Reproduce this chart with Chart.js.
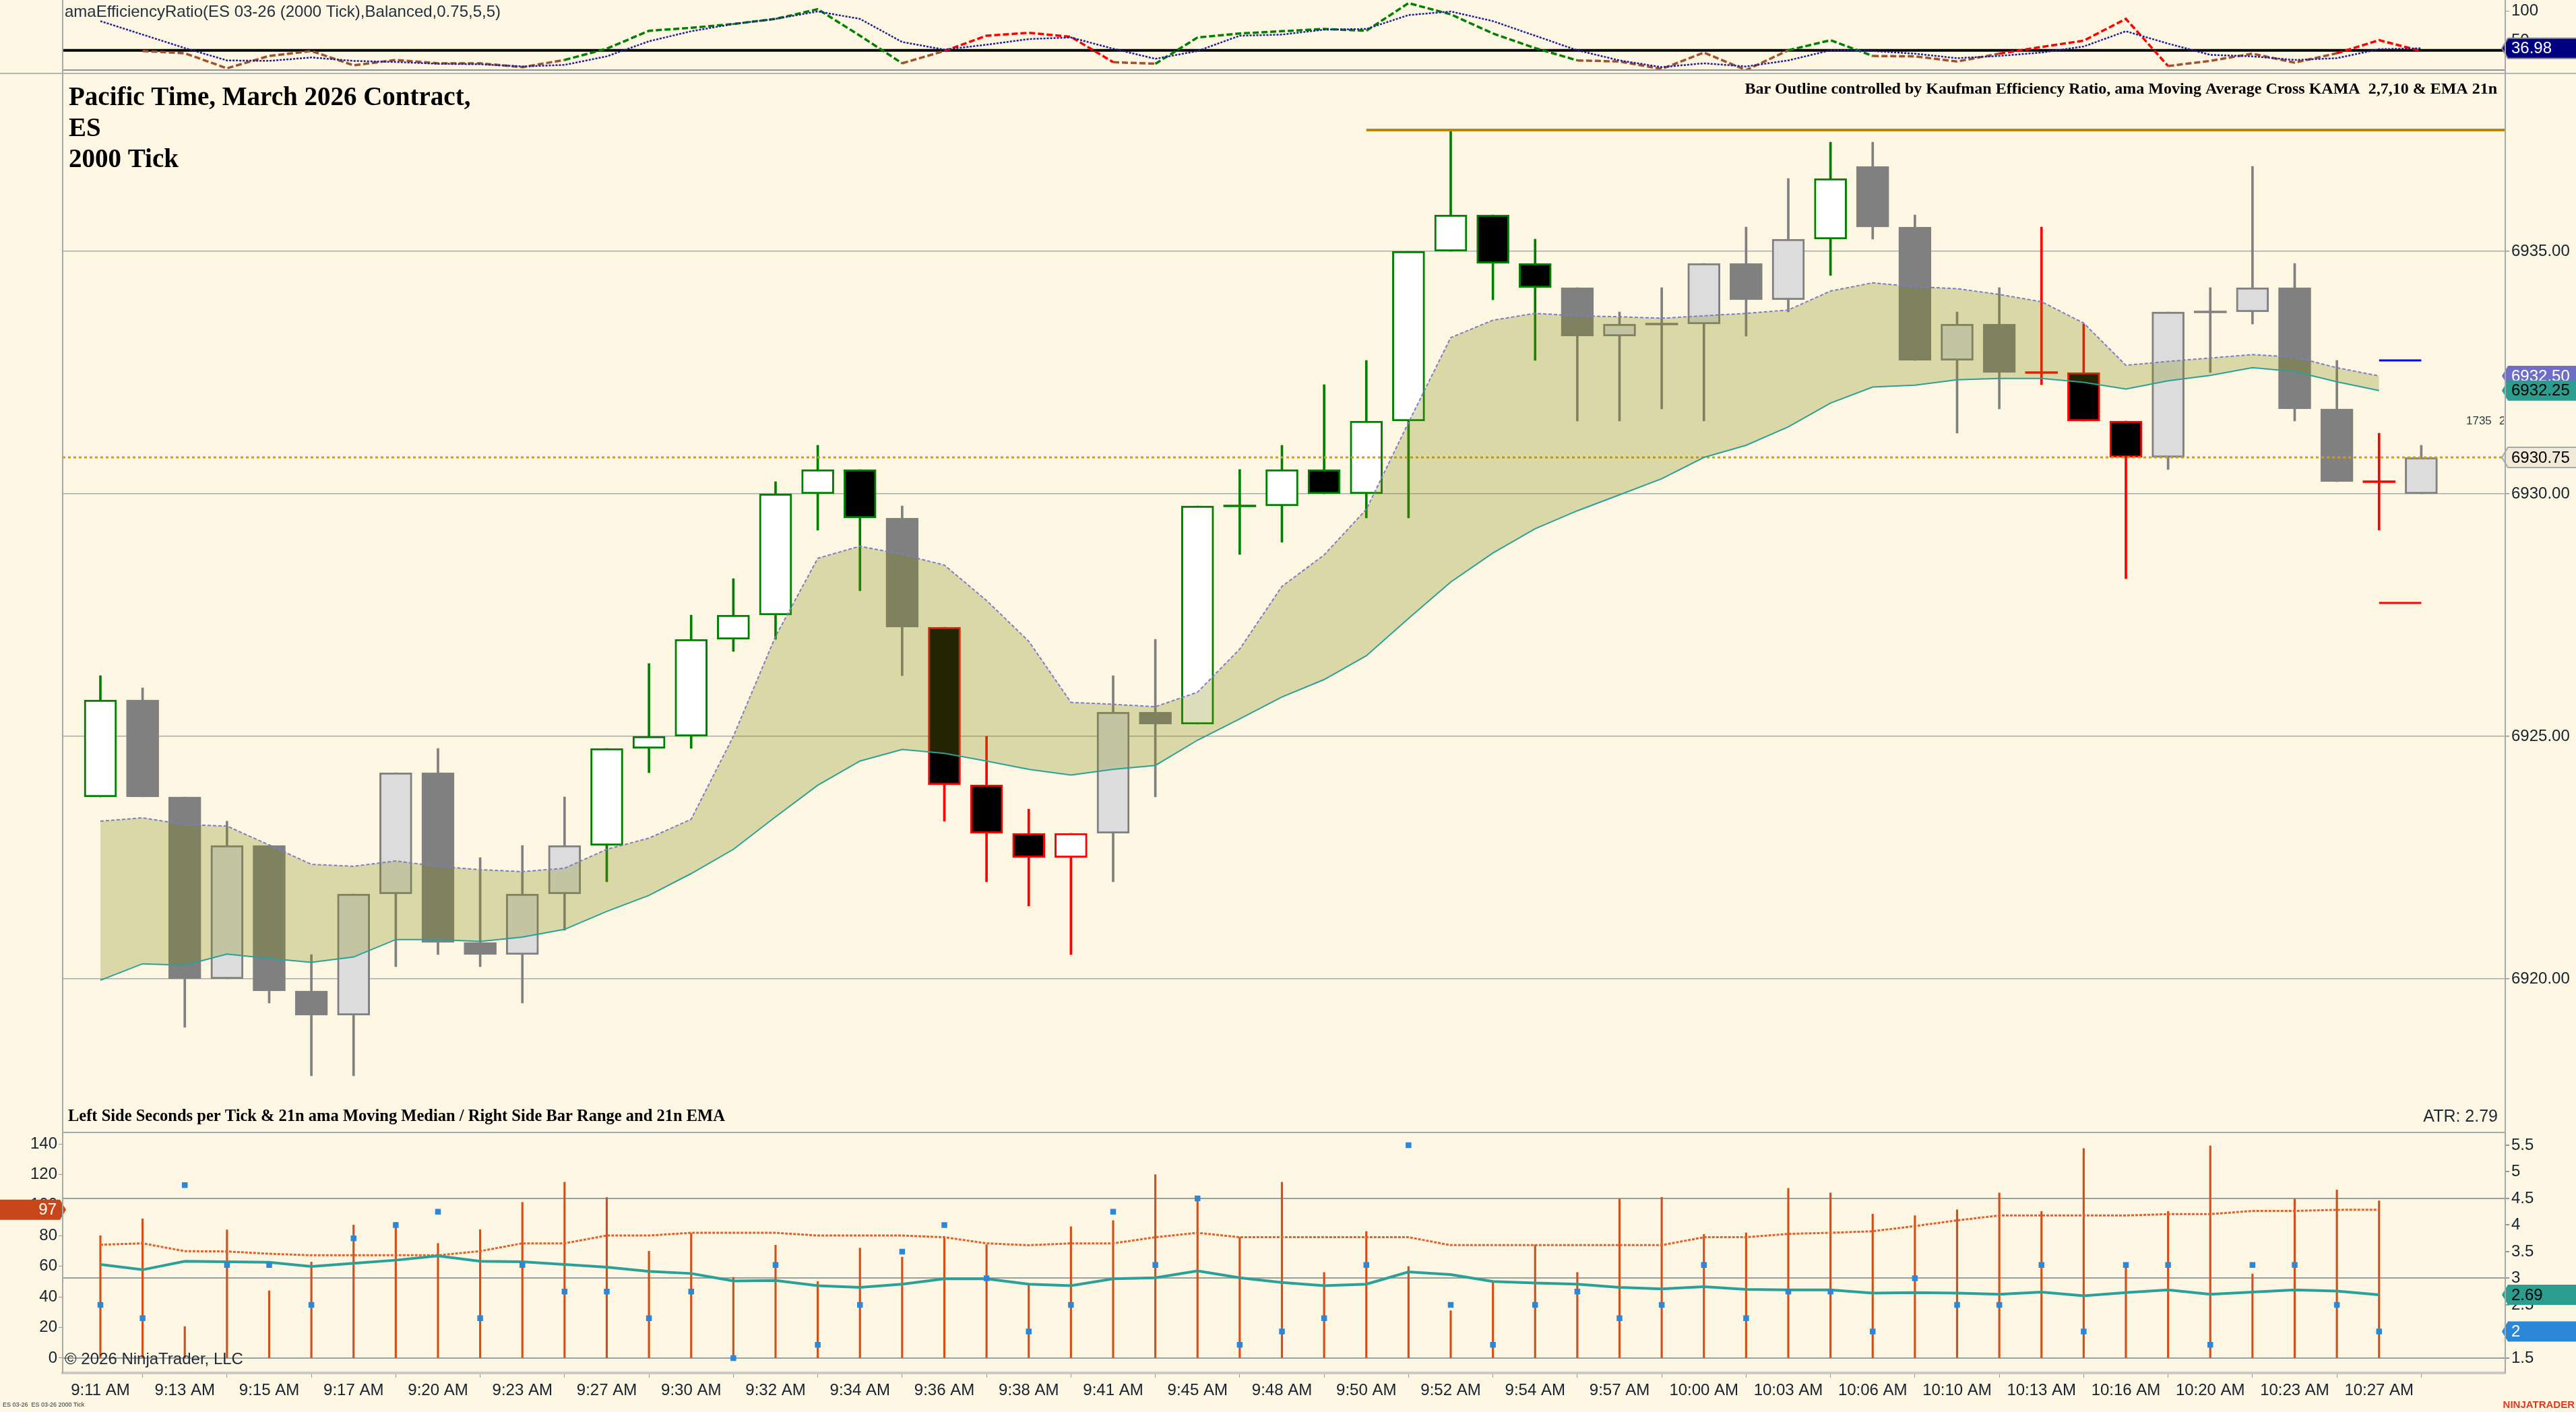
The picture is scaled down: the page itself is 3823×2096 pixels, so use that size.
<!DOCTYPE html>
<html>
<head>
<meta charset="utf-8">
<title>ES 03-26 2000 Tick</title>
<script src="https://cdn.jsdelivr.net/npm/chart.js@4.4.1/dist/chart.umd.min.js"></script>
<style>
  html, body { margin: 0; padding: 0; background: #fdf6e3; overflow: hidden; }
  body { position: relative; width: 3823px; height: 2096px; }
  .pane { position: absolute; left: 0; width: 3823px; }
  #er-pane { top: 0; height: 104px; }
  #price-pane { top: 109px; height: 1572px; }
  #stats-pane { top: 1681px; height: 415px; }
  .rule { position: absolute; background: #a3aaaa; }
</style>
</head>
<body>
<div class="pane" id="er-pane"><canvas id="er-chart"></canvas></div>
<div class="pane" id="price-pane"><canvas id="price-chart"></canvas></div>
<div class="pane" id="stats-pane"><canvas id="stats-chart"></canvas></div>
<div class="rule" style="left:93px;top:103px;width:3625px;height:2px;background:#8d9494"></div>
<div class="rule" style="left:0;top:108px;width:3823px;height:2px;background:#b3b8b6"></div>
<div class="rule" style="left:93px;top:1680px;width:3625px;height:2px"></div>
<div class="rule" style="left:92px;top:0;width:2px;height:2038px"></div>
<div class="rule" style="left:3717px;top:0;width:2px;height:2038px"></div>
<script>
// ---- data (bar index 0 = 9:11 AM) ----
const timeLabels = ['9:11 AM', '9:13 AM', '9:15 AM', '9:17 AM', '9:20 AM', '9:23 AM', '9:27 AM', '9:30 AM',
    '9:32 AM', '9:34 AM', '9:36 AM', '9:38 AM', '9:41 AM', '9:45 AM', '9:48 AM', '9:50 AM', '9:52 AM',
    '9:54 AM', '9:57 AM', '10:00 AM', '10:03 AM', '10:06 AM', '10:10 AM', '10:13 AM', '10:16 AM',
    '10:20 AM', '10:23 AM', '10:27 AM'];

const opens = [6923.75, 6925.75, 6923.75, 6920.0, 6922.75, 6919.75, 6919.25, 6921.75, 6924.25, 6920.75,
    6920.5, 6921.75, 6922.75, 6924.75, 6925.0, 6927.0, 6927.5, 6930.0, 6930.5, 6929.5,
    6927.25, 6924.0, 6923.0, 6922.5, 6923.0, 6925.5, 6925.25, 6929.75, 6929.75, 6930.5,
    6930.0, 6931.5, 6935.0, 6935.75, 6934.75, 6934.25, 6933.25, 6933.5, 6933.5, 6934.75,
    6934.0, 6935.25, 6936.75, 6935.5, 6932.75, 6933.5, 6932.5, 6932.5, 6931.5, 6930.75,
    6933.75, 6933.75, 6934.25, 6931.75, 6930.25, 6930.0];
const highs = [6926.25, 6926.0, 6923.75, 6923.25, 6922.75, 6920.5, 6921.75, 6924.25, 6924.75, 6922.5,
    6922.75, 6923.75, 6924.75, 6926.5, 6927.5, 6928.25, 6930.25, 6931.0, 6930.5, 6929.75,
    6927.25, 6925.0, 6923.5, 6923.0, 6926.25, 6927.0, 6929.75, 6930.5, 6931.0, 6932.25,
    6932.75, 6935.0, 6937.5, 6935.75, 6935.25, 6934.25, 6933.75, 6934.25, 6934.75, 6935.5,
    6936.5, 6937.25, 6937.25, 6935.75, 6933.75, 6934.25, 6935.5, 6933.5, 6931.5, 6933.75,
    6934.25, 6936.75, 6934.75, 6932.75, 6931.25, 6931.0];
const lows = [6923.75, 6923.75, 6919.0, 6920.0, 6919.5, 6918.0, 6918.0, 6920.25, 6920.5, 6920.25,
    6919.5, 6921.0, 6922.0, 6924.25, 6924.75, 6926.75, 6927.0, 6929.25, 6928.0, 6926.25,
    6923.25, 6922.0, 6921.5, 6920.5, 6922.0, 6923.75, 6925.25, 6928.75, 6929.0, 6930.0,
    6929.5, 6929.5, 6935.0, 6934.0, 6932.75, 6931.5, 6931.5, 6931.75, 6931.5, 6933.25,
    6933.75, 6934.5, 6935.25, 6932.75, 6931.25, 6931.75, 6932.25, 6931.5, 6928.25, 6930.5,
    6932.5, 6933.5, 6931.5, 6930.25, 6929.25, 6930.0];
const closes = [6925.75, 6923.75, 6920.0, 6922.75, 6919.75, 6919.25, 6921.75, 6924.25, 6920.75, 6920.5,
    6921.75, 6922.75, 6924.75, 6925.0, 6927.0, 6927.5, 6930.0, 6930.5, 6929.5, 6927.25,
    6924.0, 6923.0, 6922.5, 6923.0, 6925.5, 6925.25, 6929.75, 6929.75, 6930.5, 6930.0,
    6931.5, 6935.0, 6935.75, 6934.75, 6934.25, 6933.25, 6933.5, 6933.5, 6934.75, 6934.0,
    6935.25, 6936.5, 6935.5, 6932.75, 6933.5, 6932.5, 6932.5, 6931.5, 6930.75, 6933.75,
    6933.75, 6934.25, 6931.75, 6930.25, 6930.25, 6930.75];
// outline state from the efficiency ratio: g = trend up, r = trend down, n = neutral
const barState = ('gnnnnnnnnn' + 'nngggggggn' + 'rrrrnngggg' + 'gggggnnnnn' + 'ngnnnnrrrn' + 'nnnnrn').split('');

const kama = [6923.25, 6923.32, 6923.18, 6923.15, 6922.76, 6922.36, 6922.32, 6922.43, 6922.32, 6922.25,
    6922.21, 6922.28, 6922.67, 6922.90, 6923.29, 6925.0, 6927.06, 6928.67, 6928.92, 6928.75,
    6928.53, 6927.80, 6926.96, 6925.70, 6925.66, 6925.61, 6925.91, 6926.80, 6928.09, 6928.74,
    6929.68, 6931.47, 6933.22, 6933.58, 6933.72, 6933.67, 6933.65, 6933.62, 6933.67, 6933.72,
    6933.79, 6934.18, 6934.35, 6934.27, 6934.23, 6934.11, 6933.96, 6933.52, 6932.65, 6932.73,
    6932.80, 6932.87, 6932.82, 6932.60, 6932.43];
const ema21 = [6919.97, 6920.31, 6920.28, 6920.51, 6920.42, 6920.34, 6920.45, 6920.81, 6920.81, 6920.77,
    6920.86, 6921.02, 6921.39, 6921.72, 6922.17, 6922.67, 6923.34, 6923.99, 6924.49, 6924.73,
    6924.65, 6924.49, 6924.32, 6924.20, 6924.32, 6924.40, 6924.92, 6925.36, 6925.81, 6926.17,
    6926.66, 6927.43, 6928.18, 6928.78, 6929.28, 6929.65, 6929.98, 6930.31, 6930.75, 6931.0,
    6931.38, 6931.87, 6932.20, 6932.24, 6932.35, 6932.38, 6932.38, 6932.30, 6932.16, 6932.33,
    6932.44, 6932.60, 6932.52, 6932.31, 6932.13];

const priceTicks = [6920, 6925, 6930, 6935];
const lastPrice = 6930.75;
const sessionHigh = 6937.5;     // drawn from bar 30 to the right edge
const projHigh = 6932.75;       // short marks on the last bar
const projLow = 6927.75;
const atrValue = 2.79;

// efficiency ratio pane
const erRaw = [null, 32.4, 28.6, 3.0, 24.0, 32.4, 8.0, 17.2, 11.5, 11.5,
    5.0, 17.2, 36.3, 66.8, 71.8, 78.3, 87.0, 103.5, 58.4, 11.5,
    32.4, 58.4, 63.4, 56.5, 13.4, 10.7, 55.4, 62.2, 66.0, 69.9,
    66.8, 113.8, 94.7, 62.2, 37.4, 16.4, 14.5, 1.9, 29.8, 0,
    33.6, 50.8, 24.0, 23.3, 14.5, 27.9, 39.3, 50.0, 87.0, 6.9,
    15.6, 27.9, 12.6, 28.6, 50.8, 32.4];
const erSmooth = [83.2, 60.3, 37.4, 16.4, 15.6, 21.4, 15.6, 13.7, 10.7, 9.9,
    6.1, 8.8, 23.3, 48.9, 66.0, 78.3, 87.0, 99.6, 87.0, 47.7,
    34.7, 43.1, 52.7, 55.4, 36.3, 19.1, 32.4, 58.4, 60.3, 68.7,
    69.9, 93.5, 99.6, 83.2, 58.4, 33.6, 16.4, 5.0, 11.5, 6.1,
    16.4, 33.6, 32.4, 27.9, 20.2, 24.0, 29.8, 40.1, 66.0, 45.0,
    25.9, 23.3, 17.2, 20.2, 35.5, 36.98];
const erThreshold = 33.6;
const erTicks = [50, 100];

// lower pane: seconds per tick (left) and bar range (right)
const secPerTick = [80, 91, 20.6, 83.8, 44, 62.8, 87, 88.8, 75, 84,
    101.8, 115, 105, 69.9, 81.6, 52.8, 73.8, 50, 71.9, 66,
    79, 74.1, 48.1, 85.9, 89.9, 119.9, 102.8, 79, 115, 56,
    82.8, 59.9, 31, 50.3, 74.1, 56, 104, 105.1, 80.9, 81.9,
    111, 108, 94.1, 93.1, 96.9, 108, 95.9, 137, 62, 95.9,
    138.8, 55, 104, 109.9, 102.8];
const secMedian = [74.1, 75, 69.9, 69.7, 68.2, 67.2, 67.2, 67.2, 67.2, 69.9,
    75, 75, 80.1, 80.1, 81.9, 81.9, 81.9, 80.1, 80.1, 80.1,
    79, 75, 73.8, 75, 75, 79, 81.9, 79, 79, 79,
    79, 79, 73.8, 73.8, 73.8, 73.8, 73.8, 73.8, 79, 79,
    81.2, 81.9, 82.9, 86.3, 90, 93.2, 93.2, 93.2, 93.2, 94.1,
    94.1, 96.2, 96.2, 96.9, 97];
const barRange = [2.5, 2.25, 4.75, 3.25, 3.25, 2.5, 3.75, 4.0, 4.25, 2.25,
    3.25, 2.75, 2.75, 2.25, 2.75, 1.5, 3.25, 1.75, 2.5, 3.5,
    4.0, 3.0, 2.0, 2.5, 4.25, 3.25, 4.5, 1.75, 2.0, 2.25,
    3.25, 5.5, 2.5, 1.75, 2.5, 2.75, 2.25, 2.5, 3.25, 2.25,
    2.75, 2.75, 2.0, 3.0, 2.5, 2.5, 3.25, 2.0, 3.25, 3.25,
    1.75, 3.25, 3.25, 2.5, 2.0];
const rangeEma = [3.26, 3.16, 3.32, 3.31, 3.30, 3.22, 3.28, 3.34, 3.42, 3.32,
    3.31, 3.26, 3.21, 3.13, 3.09, 2.95, 2.96, 2.86, 2.83, 2.89,
    2.99, 2.99, 2.89, 2.86, 2.99, 3.01, 3.14, 3.01, 2.92, 2.86,
    2.89, 3.12, 3.07, 2.94, 2.91, 2.89, 2.83, 2.80, 2.84, 2.79,
    2.78, 2.78, 2.72, 2.73, 2.72, 2.70, 2.74, 2.67, 2.73, 2.78,
    2.70, 2.74, 2.78, 2.76, 2.69];
const secTicks = [0, 20, 40, 60, 80, 100, 120, 140];
const rangeTicks = [1.5, 2, 2.5, 3, 3.5, 4, 4.5, 5, 5.5];
const rangeGrid = [1.5, 3, 4.5];

// ---- view ----
const X_MIN = -0.894;
const X_MAX = 56.99;
const SANS = '"Liberation Sans", Arial, sans-serif';
const SERIF = '"Liberation Serif", "Times New Roman", serif';
const INK = '#16232f';
const EDGE = { g: '#008000', r: '#ff0000', n: '#808080' };
const ER_COLORS = { g: '#008000', r: '#ff0000', n: '#a0522d' };

Chart.defaults.font.family = SANS;
Chart.defaults.color = INK;

const idx = opens.map((_, i) => i);
const pts = (arr) => arr.map((v, i) => ({ x: i, y: v }));
const flat = (v, x0, x1) => [{ x: x0, y: v }, { x: x1, y: v }];
const toTick = (v) => Math.round(v * 4) / 4;

function bodyFill(i) {
    const s = barState[i];
    if (closes[i] > opens[i]) return s === 'n' ? '#dcdcdc' : '#ffffff';
    if (closes[i] < opens[i]) return s === 'n' ? '#808080' : '#000000';
    return EDGE[s];
}

// price tag with a pointed end, like the ones on the axes
function drawTag(ctx, side, tipX, y, w, text, bg, fg, edge) {
    const h = 30, notch = 9, dir = side === 'right' ? 1 : -1;
    ctx.beginPath();
    ctx.moveTo(tipX, y);
    ctx.lineTo(tipX + dir * notch, y - h / 2);
    ctx.lineTo(tipX + dir * w, y - h / 2);
    ctx.lineTo(tipX + dir * w, y + h / 2);
    ctx.lineTo(tipX + dir * notch, y + h / 2);
    ctx.closePath();
    ctx.fillStyle = bg;
    ctx.fill();
    if (edge) {
        ctx.strokeStyle = edge;
        ctx.lineWidth = 2;
        ctx.stroke();
    }
    ctx.fillStyle = fg;
    ctx.textBaseline = 'middle';
    ctx.font = '24px ' + SANS;
    ctx.textAlign = side === 'right' ? 'left' : 'right';
    ctx.fillText(text, tipX + dir * (notch + 5), y + 1);
}

// axes keep a fixed size and add no label padding to the plot area
function fixedWidth(w) {
    return (scale) => {
        scale.width = w;
        scale.paddingTop = 0;
        scale.paddingBottom = 0;
    };
}
function fixedHeight(h) {
    return (scale) => {
        scale.height = h;
        scale.paddingLeft = 0;
        scale.paddingRight = 0;
    };
}
function fixedTicks(list) { return (scale) => { scale.ticks = list.map((v) => ({ value: v })); }; }

const baseOptions = {
    responsive: true,
    maintainAspectRatio: false,
    animation: false,
    events: [],
    plugins: { legend: { display: false }, tooltip: { enabled: false } },
};

// ---- efficiency ratio pane ----
const erNotes = {
    id: 'erNotes',
    afterDraw(chart) {
        const ctx = chart.ctx;
        const y = chart.scales.y;
        ctx.save();
        ctx.font = '24px ' + SANS;
        ctx.fillStyle = '#22313f';
        ctx.textBaseline = 'middle';
        ctx.fillText('amaEfficiencyRatio(ES 03-26 (2000 Tick),Balanced,0.75,5,5)', 96, 18);
        const last = erSmooth[erSmooth.length - 1];
        drawTag(ctx, 'right', chart.chartArea.right - 5, y.getPixelForValue(last), 112,
            last.toFixed(2), '#000080', '#ffffff', '#8a8a8a');
        ctx.restore();
    }
};

new Chart(document.getElementById('er-chart'), {
    type: 'line',
    data: {
        datasets: [
            {
                data: pts(erSmooth),
                borderColor: '#1f1f9a', borderWidth: 2.5, borderDash: [3, 2],
                pointRadius: 0, order: 0
            },
            {
                data: pts(erRaw),
                borderWidth: 3.5, borderDash: [9, 4], pointRadius: 0, order: 1,
                segment: {
                    borderColor: (c) => {
                        const a = c.p0DataIndex, b = c.p1DataIndex;
                        if (erRaw[b] > erThreshold) return ER_COLORS[barState[b]];
                        if (erRaw[a] > erThreshold) return ER_COLORS[barState[a]];
                        return ER_COLORS.n;
                    }
                }
            },
            {
                data: flat(erThreshold, X_MIN, X_MAX),
                borderColor: '#000000', borderWidth: 4, pointRadius: 0, order: 2
            }
        ]
    },
    options: {
        ...baseOptions,
        layout: { padding: { left: 93, right: 0, top: 0, bottom: 0 }, autoPadding: false },
        scales: {
            x: { type: 'linear', min: X_MIN, max: X_MAX, display: false },
            y: {
                position: 'right', min: 0, max: 119.1,
                afterFit: fixedWidth(105), afterBuildTicks: fixedTicks(erTicks),
                ticks: { font: { size: 24 }, color: INK, padding: 3 },
                grid: { drawOnChartArea: false, tickLength: 6, tickColor: '#8e979b' },
                border: { display: false }
            }
        }
    },
    plugins: [erNotes]
});

// ---- price pane ----
const priceNotes = {
    id: 'priceNotes',
    afterDraw(chart) {
        const ctx = chart.ctx;
        const area = chart.chartArea;
        const y = chart.scales.y;
        ctx.save();
        ctx.fillStyle = '#000000';
        ctx.textBaseline = 'middle';
        ctx.textAlign = 'left';
        ctx.font = 'bold 39px ' + SERIF;
        ['Pacific Time, March 2026 Contract,', 'ES', '2000 Tick'].forEach((t, k) => ctx.fillText(t, 102, 37 + 46 * k));
        ctx.font = 'bold 24.5px ' + SERIF;
        ctx.fillText('Left Side Seconds per Tick & 21n ama Moving Median / Right Side Bar Range and 21n EMA', 101, 1549);
        ctx.font = 'bold 24px ' + SERIF;
        ctx.textAlign = 'right';
        ctx.fillText('Bar Outline controlled by Kaufman Efficiency Ratio, ama Moving Average Cross KAMA  2,7,10 & EMA 21n', 3706, 24);
        ctx.font = '25px ' + SANS;
        ctx.fillStyle = '#1e2b37';
        ctx.fillText('ATR: ' + atrValue.toFixed(2), 3707, 1549);

        // tick counter, cut by the axis line
        ctx.save();
        ctx.beginPath();
        ctx.rect(0, 0, area.right - 2, chart.height);
        ctx.clip();
        ctx.font = '17px ' + SANS;
        ctx.fillStyle = '#2d3a45';
        ctx.textAlign = 'left';
        ctx.fillText('1735', 3660, 516);
        ctx.fillText('2', 3709, 516);
        ctx.restore();

        const k = kama[kama.length - 1], e = ema21[ema21.length - 1];
        drawTag(ctx, 'right', area.right - 5, y.getPixelForValue(k), 112, toTick(k).toFixed(2), '#6e6ec8', '#ffffff');
        drawTag(ctx, 'right', area.right - 5, y.getPixelForValue(e), 112, toTick(e).toFixed(2), '#2a9d8f', '#000000');
        drawTag(ctx, 'right', area.right - 5, y.getPixelForValue(lastPrice), 112, lastPrice.toFixed(2), '#f1ead9', '#000000', '#a3aaaa');
        ctx.restore();
    }
};

const bodyData = idx.map((i) => ({
    x: i,
    y: opens[i] === closes[i] ? [opens[i] - 0.02, opens[i] + 0.02] : [opens[i], closes[i]]
}));

new Chart(document.getElementById('price-chart'), {
    type: 'bar',
    data: {
        datasets: [
            // band drawn over the candles
            {
                type: 'line', data: pts(kama), borderColor: '#7c7cc8', borderWidth: 2, borderDash: [5, 3],
                pointRadius: 0, order: 0
            },
            {
                type: 'line', data: pts(ema21), borderColor: '#2aa198', borderWidth: 2,
                pointRadius: 0, fill: '-1', backgroundColor: 'rgba(128, 138, 7, 0.27)', order: 0
            },
            {
                type: 'line', data: flat(lastPrice, X_MIN, X_MAX), borderColor: '#c8a028', borderWidth: 3,
                borderDash: [4, 4], pointRadius: 0, order: 0
            },
            {
                type: 'line', data: flat(sessionHigh, 30, X_MAX), borderColor: '#b8860b', borderWidth: 4,
                pointRadius: 0, order: 0
            },
            {
                type: 'line', data: flat(projHigh, 54, 55), borderColor: '#0000ff', borderWidth: 3,
                pointRadius: 0, order: 0
            },
            {
                type: 'line', data: flat(projLow, 54, 55), borderColor: '#ff0000', borderWidth: 3,
                pointRadius: 0, order: 0
            },
            {
                data: bodyData,
                backgroundColor: idx.map(bodyFill),
                borderColor: idx.map((i) => EDGE[barState[i]]),
                borderWidth: idx.map((i) => (opens[i] === closes[i] ? 0 : 3)),
                borderSkipped: false, grouped: false, barThickness: 48, maxBarThickness: 48, order: 1
            },
            {
                data: idx.map((i) => ({ x: i, y: [lows[i], highs[i]] })),
                backgroundColor: idx.map((i) => EDGE[barState[i]]),
                borderWidth: 0, grouped: false, barThickness: 3, maxBarThickness: 3, order: 2
            }
        ]
    },
    options: {
        ...baseOptions,
        layout: { padding: { left: 93, right: 0, top: 0, bottom: 0 }, autoPadding: false },
        scales: {
            x: { type: 'linear', min: X_MIN, max: X_MAX, offset: false, display: false },
            y: {
                position: 'right', min: 6916.833, max: 6938.667,
                afterFit: fixedWidth(105), afterBuildTicks: fixedTicks(priceTicks),
                ticks: { callback: (v) => v.toFixed(2), font: { size: 24 }, color: INK, padding: 3 },
                grid: { color: '#a9adab', lineWidth: 1.5, tickLength: 6, tickColor: '#8e979b' },
                border: { display: false }
            }
        }
    },
    plugins: [priceNotes]
});

// ---- lower pane ----
const statsNotes = {
    id: 'statsNotes',
    afterDraw(chart) {
        const ctx = chart.ctx;
        const area = chart.chartArea;
        const yL = chart.scales.yL, yR = chart.scales.yR;
        ctx.save();
        ctx.textBaseline = 'middle';
        ctx.textAlign = 'left';
        ctx.font = '24px ' + SANS;
        ctx.fillStyle = '#1e2b37';
        ctx.fillText('\u00a9 2026 NinjaTrader, LLC', 96, 337);
        ctx.font = '9px ' + SANS;
        ctx.fillText('ES 03-26  ES 03-26 2000 Tick', 4, 405);
        ctx.font = 'bold 15px ' + SANS;
        ctx.fillStyle = '#e03a1e';
        ctx.textAlign = 'right';
        ctx.fillText('NINJATRADER', 3821, 405);

        const m = secMedian[secMedian.length - 1];
        const e = rangeEma[rangeEma.length - 1];
        const r = barRange[barRange.length - 1];
        drawTag(ctx, 'left', area.left + 5, yL.getPixelForValue(m), 98, String(m), '#c9461a', '#ffffff');
        drawTag(ctx, 'right', area.right - 5, yR.getPixelForValue(e), 112, e.toFixed(2), '#2a9d8f', '#000000');
        drawTag(ctx, 'right', area.right - 5, yR.getPixelForValue(r), 112, String(r), '#2b88d8', '#ffffff');
        ctx.restore();
    }
};

new Chart(document.getElementById('stats-chart'), {
    type: 'bar',
    data: {
        datasets: [
            {
                type: 'line', data: pts(barRange), yAxisID: 'yR', showLine: false,
                pointStyle: 'rect', pointRadius: 6, pointBackgroundColor: '#2b88d8', pointBorderWidth: 0, order: 0
            },
            {
                type: 'line', data: pts(rangeEma), yAxisID: 'yR', borderColor: '#2aa198', borderWidth: 4,
                pointRadius: 0, order: 1
            },
            {
                type: 'line', data: pts(secMedian), yAxisID: 'yL', borderColor: '#e0622a', borderWidth: 3,
                borderDash: [4, 2], pointRadius: 0, order: 2
            },
            {
                data: pts(secPerTick), yAxisID: 'yL', backgroundColor: '#d4501a',
                grouped: false, barThickness: 2.5, maxBarThickness: 2.5, order: 3
            }
        ]
    },
    options: {
        ...baseOptions,
        layout: { padding: 0, autoPadding: false },
        scales: {
            x: {
                type: 'linear', min: X_MIN, max: X_MAX, offset: false,
                afterFit: fixedHeight(58),
                afterBuildTicks: fixedTicks(timeLabels.map((_, k) => 2 * k)),
                ticks: { callback: (v) => timeLabels[v / 2], autoSkip: false, maxRotation: 0, font: { size: 24 }, color: INK, padding: 5 },
                grid: { drawOnChartArea: false, tickLength: 7, tickColor: '#8e979b' },
                border: { color: '#c9cbc4', width: 4 }
            },
            yL: {
                position: 'left', min: -9.686, max: 147.49,
                afterFit: fixedWidth(93), afterBuildTicks: fixedTicks(secTicks),
                ticks: { font: { size: 24 }, color: INK, padding: 2 },
                grid: { drawOnChartArea: false, tickLength: 6, tickColor: '#8e979b' },
                border: { display: false }
            },
            yR: {
                position: 'right', min: 1.2215, max: 5.74,
                afterFit: fixedWidth(105), afterBuildTicks: fixedTicks(rangeTicks),
                ticks: { callback: (v) => String(v), font: { size: 24 }, color: INK, padding: 3 },
                grid: {
                    color: (c) => (c.tick && rangeGrid.includes(c.tick.value) ? '#9aa0a0' : 'rgba(0,0,0,0)'),
                    lineWidth: 2, tickLength: 6, tickColor: '#8e979b'
                },
                border: { display: false }
            }
        }
    },
    plugins: [statsNotes]
});
</script>
</body>
</html>
